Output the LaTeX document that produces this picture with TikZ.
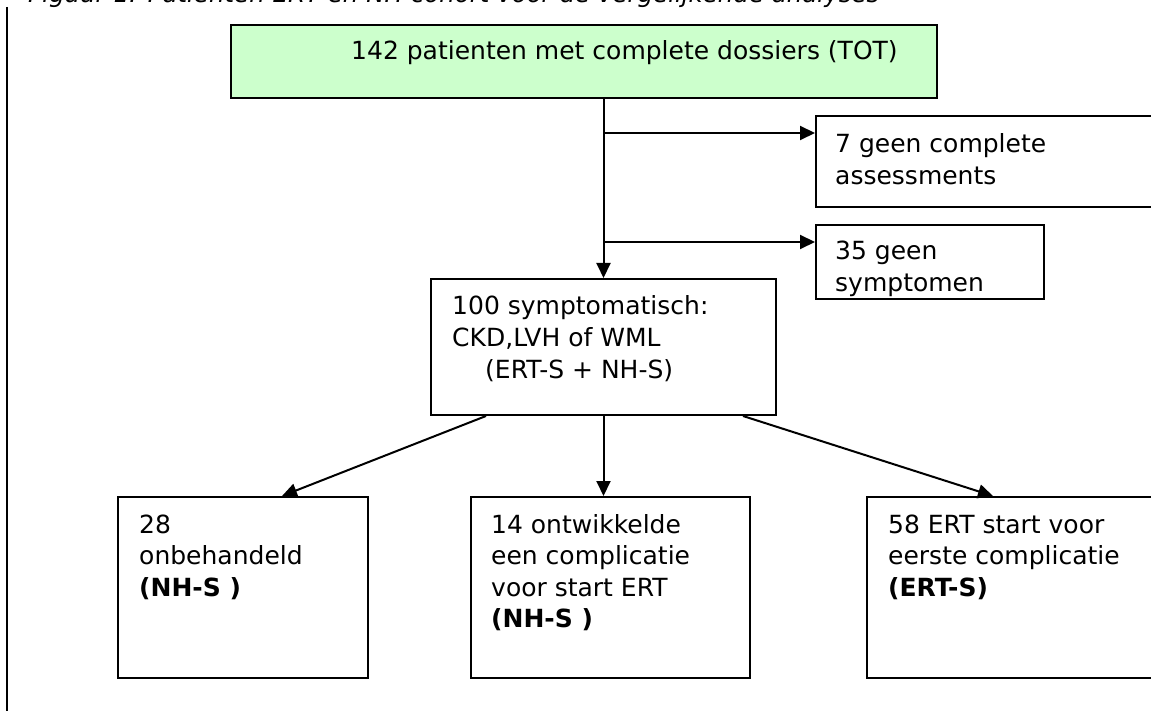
\documentclass[tikz,border=0pt]{standalone}
\usepackage{fontspec}
\setmainfont{DejaVu Sans}
\usetikzlibrary{arrows.meta,calc}
\definecolor{boxgreen}{RGB}{204,255,204}
\newcommand\boxlines[1]{\vtop{\baselineskip=31.5pt\lineskiplimit=-30pt\halign{##\hfil\cr#1\crcr}}}
\begin{document}
\begin{tikzpicture}[x=1pt,y=-1pt,
  box/.style={draw, line width=2pt, inner sep=0pt, anchor=north west},
  txt/.style={anchor=base west, inner sep=0pt, font=\fontsize{25}{31.5}\selectfont},
  arr/.style={line width=2pt, -{Triangle[length=15pt,width=14pt]}}]
\useasboundingbox (0,0) rectangle (1151,711);
\clip (0,0) rectangle (1151,711);
% title (cut off at top)
\node[anchor=base west, inner sep=0pt, font=\fontsize{24.5}{30}\selectfont\itshape] (title) at (28,3)
  {Figuur 1: Patienten ERT en NH cohort voor de vergelijkende analyses};
% left margin line
\coordinate (lt) at (7,7);
\coordinate (lb) at (7,711);
\draw[line width=2.2pt] (lt) -- (lb);
% boxes
\node[box, fill=boxgreen, minimum width=706pt, minimum height=73pt] (tot) at (230,24) {};
\node[box, minimum width=360pt, minimum height=91pt] (geen7) at (815,115) {};
\node[box, minimum width=228pt, minimum height=74pt] (geen35) at (815,224) {};
\node[box, minimum width=345pt, minimum height=136pt] (sym) at (430,278) {};
\node[box, minimum width=250pt, minimum height=181pt] (b1) at (117,496) {};
\node[box, minimum width=279pt, minimum height=181pt] (b2) at (470,496) {};
\node[box, minimum width=310pt, minimum height=181pt] (b3) at (866,496) {};
% texts
\node[txt] (t0) at (351,60) {142 patienten met complete dossiers (TOT)};
\node[txt] (t1) at (835,153) {\boxlines{7 geen complete\cr assessments}};
\node[txt] (t2) at (835,260) {\boxlines{35 geen\cr symptomen}};
\node[txt] (t3) at (452,315) {\boxlines{100 symptomatisch:\cr CKD,LVH of WML\cr \kern33pt(ERT-S + NH-S)}};
\node[txt] (t4) at (139,533) {\boxlines{28\cr onbehandeld\cr \textbf{(NH-S )}}};
\node[txt] (t5) at (491,533) {\boxlines{14 ontwikkelde\cr een complicatie\cr voor start ERT\cr \textbf{(NH-S )}}};
\node[txt] (t6) at (888,533) {\boxlines{58 ERT start voor\cr eerste complicatie\cr \textbf{(ERT-S)}}};
% connectors
\coordinate (j1) at (sym.north |- 0,133);
\coordinate (j2) at (sym.north |- 0,242);
\draw[arr] (tot.south -| sym.north) -- (sym.north);
\draw[arr] (j1) -- (j1 -| geen7.west);
\draw[arr] (j2) -- (j2 -| geen35.west);
\draw[arr] ($(sym.south west)+(56,0)$) -- ($(b1.north west)+(165,0)$);
\draw[arr] (sym.south) -- (sym.south |- b2.north);
\draw[arr] ($(sym.south west)+(313,0)$) -- ($(b3.north west)+(127,0)$);
\end{tikzpicture}
\end{document}
